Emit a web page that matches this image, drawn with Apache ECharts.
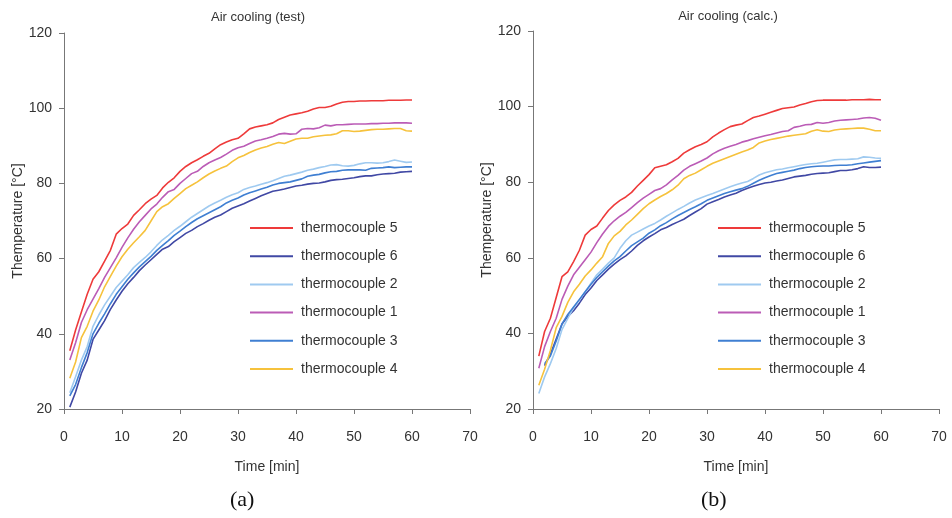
<!DOCTYPE html>
<html>
<head>
<meta charset="utf-8">
<script src="https://cdn.jsdelivr.net/npm/echarts@6/dist/echarts.min.js"></script>
<style>
  html, body { margin: 0; padding: 0; background: #fff; }
  #chart { width: 952px; height: 518px; }
</style>
</head>
<body>
<div id="chart"></div>
<script>
  // time [min]
  var time = [1, 2, 3, 4, 5, 6, 7, 8, 9, 10, 11, 12, 13, 14, 15, 16, 17, 18, 19, 20,
    21, 22, 23, 24, 25, 26, 27, 28, 29, 30, 31, 32, 33, 34, 35, 36, 37, 38, 39, 40,
    41, 42, 43, 44, 45, 46, 47, 48, 49, 50, 51, 52, 53, 54, 55, 56, 57, 58, 59, 60];

  // (a) test
  var testTc5 = [35.5, 41, 45.8, 50.5, 54.5, 56.5, 59.3, 62.2, 66.5, 68, 69.2, 71.5, 73, 74.6, 75.8, 76.8, 78.8, 80.3, 81.5, 83.2,
    84.5, 85.5, 86.3, 87.2, 88, 89.2, 90.3, 91, 91.6, 92, 93.2, 94.5, 95, 95.3, 95.6, 96.1, 97, 97.6, 98.2, 98.5,
    98.8, 99.2, 99.8, 100.2, 100.2, 100.5, 101.1, 101.6, 101.8, 101.8, 101.9, 101.9, 102, 102, 102, 102.1, 102.1, 102.1, 102.2, 102.2];
  var testTc6 = [20.5, 24.5, 29.5, 33, 38.5, 41, 43.5, 46.5, 49, 51.3, 53.3, 55, 56.8, 58.3, 59.7, 61.1, 62.5, 63.2, 64.5, 65.6,
    66.7, 67.5, 68.5, 69.3, 70.2, 71, 71.6, 72.5, 73.4, 74, 74.6, 75.3, 76, 76.7, 77.3, 77.9, 78.2, 78.5, 78.9, 79.3,
    79.5, 79.8, 80, 80.1, 80.4, 80.8, 81, 81.1, 81.3, 81.5, 81.8, 82, 82, 82.3, 82.5, 82.6, 82.7, 83, 83.1, 83.2];
  var testTc2 = [24.3, 28.6, 33, 36.6, 42, 45, 47.7, 50, 52.3, 54, 55.7, 57.6, 59, 60.3, 61.8, 63.5, 65, 66.2, 67.5, 68.6,
    69.8, 71, 72, 73, 74, 74.8, 75.5, 76.3, 77, 77.5, 78.4, 78.9, 79.3, 79.8, 80.2, 80.7, 81.3, 81.9, 82.2, 82.6,
    83, 83.5, 83.8, 84.2, 84.5, 84.9, 85, 84.7, 84.6, 84.8, 85.2, 85.5, 85.5, 85.4, 85.5, 85.8, 86.2, 85.9, 85.6, 85.7];
  var testTc1 = [33, 37.6, 43, 46.4, 49.2, 52, 55, 57.6, 60.2, 63, 65.5, 67.8, 69.8, 71.5, 73.2, 74.5, 76.3, 77.8, 78.4, 80,
    81.3, 82.6, 83.2, 84.5, 85.5, 86.2, 86.9, 87.8, 88.8, 89.5, 89.9, 90.6, 91.3, 91.6, 92, 92.5, 93.1, 93.3, 93.1, 93.2,
    94.4, 94.6, 94.5, 94.8, 95.5, 95.3, 95.6, 95.6, 95.7, 95.8, 95.8, 95.8, 95.9, 95.9, 96, 96, 96.1, 96.1, 96.1, 96];
  var testTc3 = [23.5, 26.5, 31, 35, 40, 42.8, 45.3, 48, 50.5, 52.5, 54.5, 56.2, 57.8, 59.2, 60.6, 62.2, 63.5, 64.8, 66.2, 67.3,
    68.5, 69.6, 70.6, 71.4, 72.2, 73, 73.8, 74.8, 75.5, 76.1, 76.9, 77.5, 78, 78.5, 79, 79.6, 80, 80.2, 80.4, 80.8,
    81.2, 81.9, 82.2, 82.4, 82.8, 83.1, 83.2, 83.5, 83.6, 83.6, 83.6, 83.5, 84, 84.1, 84.2, 84.4, 84.2, 84.3, 84.4, 84.4];
  var testTc4 = [28.2, 32.5, 39, 42, 46, 49, 52.5, 55.3, 58, 60.5, 62.5, 64.2, 65.8, 67.5, 70, 72.5, 73.8, 74.6, 76, 77.3,
    78.6, 79.5, 80.4, 81.5, 82.5, 83.3, 84, 84.6, 85.8, 86.8, 87.4, 88.2, 88.9, 89.4, 89.8, 90.4, 90.9, 90.6, 91.2, 91.8,
    92, 92, 92.4, 92.6, 92.8, 92.9, 93.2, 94, 94, 93.8, 93.9, 94.1, 94.3, 94.4, 94.4, 94.5, 94.6, 94.6, 94, 93.9];

  // (b) calc.
  var calcTc5 = [34, 40.5, 44, 49.5, 55, 56.3, 59, 62, 66, 67.5, 68.4, 70.5, 72.5, 74, 75.2, 76.1, 77.3, 79, 80.5, 82,
    83.8, 84.2, 84.6, 85.4, 86.3, 87.7, 88.6, 89.4, 90, 90.7, 92, 93, 93.9, 94.7, 95.1, 95.4, 96.3, 97.1, 97.5, 98,
    98.5, 99, 99.5, 99.7, 99.9, 100.4, 100.8, 101.3, 101.6, 101.7, 101.7, 101.7, 101.7, 101.7, 101.8, 101.8, 101.8, 101.9, 101.8, 101.8];
  var calcTc6 = [null, 31.5, 34.5, 38.5, 42.5, 44.5, 46, 48, 50.3, 52, 54, 55.5, 57, 58.3, 59.5, 60.5, 61.8, 63.3, 64.5, 65.5,
    66.4, 67.4, 68, 68.8, 69.5, 70.2, 71.2, 72.1, 73, 74.2, 74.8, 75.4, 76.1, 76.6, 77.1, 77.8, 78.4, 78.9, 79.4, 79.8,
    80, 80.3, 80.6, 81, 81.4, 81.6, 81.8, 82.1, 82.3, 82.4, 82.5, 82.8, 83.1, 83.1, 83.3, 83.6, 84.1, 83.9, 83.9, 84];
  var calcTc2 = [24.1, 28.5, 32, 36, 41, 44, 46.8, 48.8, 51, 53.3, 55.5, 57, 58.6, 60, 62.5, 64.5, 66, 66.8, 67.6, 68.4,
    69.1, 70, 71, 71.9, 72.8, 73.6, 74.5, 75.3, 75.9, 76.5, 77, 77.6, 78.2, 78.8, 79.3, 79.8, 80.2, 81, 81.9, 82.5,
    82.9, 83.3, 83.5, 83.8, 84.1, 84.4, 84.7, 84.9, 85, 85.3, 85.6, 85.9, 86, 86, 86.1, 86.2, 86.7, 86.6, 86.4, 86.3];
  var calcTc1 = [30.8, 36.5, 40.5, 44, 49, 52.5, 55.5, 57.5, 59.5, 61.5, 64, 66.3, 68.3, 69.8, 71, 72, 73.3, 74.6, 75.8, 76.8,
    77.8, 78.3, 79.3, 80.6, 81.8, 83.2, 84.2, 84.9, 85.6, 86.4, 87.5, 88.3, 89, 89.5, 90, 90.6, 91, 91.5, 91.9, 92.3,
    92.6, 93, 93.4, 93.6, 94.5, 94.8, 95.2, 95.3, 95.8, 95.6, 95.8, 96.2, 96.4, 96.5, 96.6, 96.7, 97, 97.1, 96.9, 96.4];
  var calcTc3 = [null, 32, 34, 38, 42.5, 45, 47, 49, 51, 53, 54.8, 56.3, 57.8, 59.2, 60.3, 61.8, 63.2, 64.2, 65.2, 66.5,
    67.4, 68.5, 69.3, 70.3, 71.2, 72, 72.8, 73.5, 74.3, 75.2, 75.8, 76.4, 77, 77.5, 77.9, 78.3, 78.9, 79.7, 80.5, 81.2,
    81.8, 82.3, 82.6, 82.9, 83.2, 83.6, 83.9, 84.1, 84.2, 84.3, 84.3, 84.4, 84.5, 84.5, 84.6, 84.9, 85.1, 85.3, 85.5, 85.7];
  var calcTc4 = [26.3, 30.5, 35.5, 41.5, 44.5, 48.2, 51, 53, 55.2, 56.8, 58.6, 60.3, 63.8, 65.8, 67, 68.7, 70, 71.5, 73, 74.3,
    75.3, 76.2, 77, 78, 79.2, 80.9, 81.8, 82.4, 83.3, 84.2, 85, 85.6, 86.2, 86.8, 87.4, 88, 88.5, 89.2, 90.4, 90.9,
    91.3, 91.6, 91.9, 92.2, 92.4, 92.6, 92.8, 93.5, 93.9, 93.5, 93.4, 93.8, 94, 94.1, 94.2, 94.3, 94.3, 94, 93.6, 93.6];

  var names = ['thermocouple 5', 'thermocouple 6', 'thermocouple 2', 'thermocouple 1', 'thermocouple 3', 'thermocouple 4'];
  var colors = ['#ee3a3a', '#4048a4', '#9fcaf0', '#bb5cb6', '#3f7fd2', '#f6c23c'];
  var testData = [testTc5, testTc6, testTc2, testTc1, testTc3, testTc4];
  var calcData = [calcTc5, calcTc6, calcTc2, calcTc1, calcTc3, calcTc4];

  var FONT = 'Liberation Sans, Arial, sans-serif';

  function pairs(arr) {
    return time.map(function (t, i) { return [t, arr[i]]; });
  }

  function xAxisOf(idx) {
    return {
      type: 'value', gridIndex: idx, min: 0, max: 70, interval: 10,
      name: 'Time [min]', nameLocation: 'middle', nameGap: 51,
      nameTextStyle: { color: '#333', fontSize: 14, fontFamily: FONT },
      axisLine: { lineStyle: { color: '#777', width: 1 } },
      axisTick: { show: true, length: 5, lineStyle: { color: '#777' } },
      axisLabel: { color: '#333', fontSize: 14, fontFamily: FONT, margin: 21 },
      splitLine: { show: false }
    };
  }

  function yAxisOf(idx) {
    return {
      type: 'value', gridIndex: idx, min: 20, max: 120, interval: 20,
      name: 'Themperature [°C]', nameLocation: 'middle', nameGap: 38,
      nameTextStyle: { color: '#333', fontSize: 14, fontFamily: FONT },
      axisLine: { show: true, lineStyle: { color: '#777', width: 1 } },
      axisTick: { show: true, length: 5, lineStyle: { color: '#777' } },
      axisLabel: { color: '#333', fontSize: 14, fontFamily: FONT, margin: 12 },
      splitLine: { show: false }
    };
  }

  // legend: plain line sample, no symbol
  function legendOf(left) {
    return {
      orient: 'vertical', left: left, top: 216,
      icon: 'rect', itemWidth: 43, itemHeight: 2, itemGap: 14.2,
      data: names,
      textStyle: { color: '#333', fontSize: 14, fontFamily: FONT, padding: [0, 0, 0, 3] }
    };
  }

  var series = [];
  names.forEach(function (n, i) {
    series.push({
      name: n, type: 'line', xAxisIndex: 0, yAxisIndex: 0,
      data: pairs(testData[i]), symbol: 'none', showSymbol: false,
      lineStyle: { color: colors[i], width: 1.6 }, itemStyle: { color: colors[i] }
    });
  });
  names.forEach(function (n, i) {
    series.push({
      name: n, type: 'line', xAxisIndex: 1, yAxisIndex: 1,
      data: pairs(calcData[i]), symbol: 'none', showSymbol: false,
      lineStyle: { color: colors[i], width: 1.6 }, itemStyle: { color: colors[i] }
    });
  });

  var myChart = echarts.init(document.getElementById('chart'));
  myChart.setOption({
    backgroundColor: '#fff',
    animation: false,
    title: [
      { text: 'Air cooling (test)', left: 253, top: 6, textAlign: 'center',
        textStyle: { color: '#333', fontSize: 13, fontWeight: 'normal', fontFamily: FONT } },
      { text: 'Air cooling (calc.)', left: 723, top: 5, textAlign: 'center',
        textStyle: { color: '#333', fontSize: 13, fontWeight: 'normal', fontFamily: FONT } }
    ],
    grid: [
      { left: 64, top: 33, width: 406, height: 376 },
      { left: 533, top: 31, width: 406, height: 378 }
    ],
    xAxis: [xAxisOf(0), xAxisOf(1)],
    yAxis: [yAxisOf(0), yAxisOf(1)],
    legend: [legendOf(245), legendOf(713)],
    graphic: [
      { type: 'text', left: 230, top: 489,
        style: { text: '(a)', fontSize: 22, fontFamily: 'Liberation Serif, Times New Roman, serif', fill: '#111' } },
      { type: 'text', left: 701, top: 489,
        style: { text: '(b)', fontSize: 22, fontFamily: 'Liberation Serif, Times New Roman, serif', fill: '#111' } }
    ],
    series: series
  });
</script>
</body>
</html>
